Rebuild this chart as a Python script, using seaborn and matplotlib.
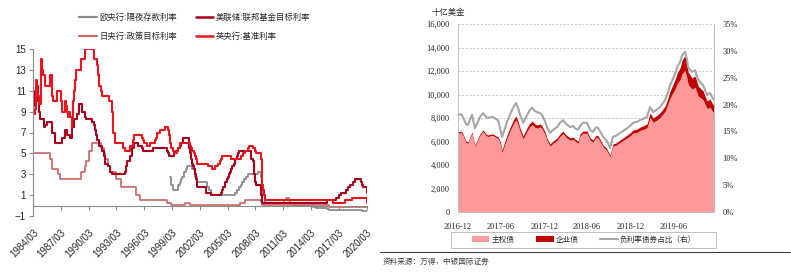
import numpy as np
import pandas as pd
import matplotlib
matplotlib.use('Agg')
import matplotlib.pyplot as plt
from matplotlib.patches import Patch, Rectangle
from matplotlib.lines import Line2D
from matplotlib.ticker import FuncFormatter
import matplotlib.dates as mdates
import seaborn as sns

# ---------------- left chart data (policy rates, %) ----------------
fed_dates = ['1984-03','1984-04','1984-06','1984-08','1984-10','1984-11','1984-12','1985-05','1985-07','1985-09',
             '1986-03','1986-04','1986-07','1986-08','1987-04','1987-09','1987-11','1988-03','1988-06','1988-08',
             '1988-12','1989-02','1989-06','1989-07','1989-10','1989-12','1990-07','1990-10','1990-11','1991-01',
             '1991-02','1991-04','1991-08','1991-09','1991-11','1991-12','1992-04','1992-07','1992-09','1994-02',
             '1994-03','1994-04','1994-05','1994-08','1994-11','1995-02','1995-07','1995-12','1996-01','1997-03',
             '1998-09','1998-10','1998-11','1999-06','1999-08','1999-11','2000-02','2000-03','2000-05','2001-01',
             '2001-03','2001-04','2001-05','2001-06','2001-08','2001-09','2001-10','2001-11','2001-12','2002-11',
             '2003-06','2004-06','2004-08','2004-09','2004-11','2004-12','2005-02','2005-03','2005-05','2005-06',
             '2005-08','2005-09','2005-11','2005-12','2006-01','2006-03','2006-05','2006-06','2007-09','2007-10',
             '2007-12','2008-01','2008-03','2008-04','2008-10','2008-12','2015-12','2016-12','2017-03','2017-06',
             '2017-12','2018-03','2018-06','2018-09','2018-12','2019-08','2019-09','2019-10','2020-03-03','2020-03-20']
fed_vals = [9.5,10.5,11.0,11.5,10.0,9.0,8.25,7.5,7.75,8.0,
            7.5,7.0,6.5,6.0,6.5,7.25,6.75,6.5,7.5,8.25,
            8.75,9.75,9.25,9.0,8.5,8.25,8.0,7.75,7.25,6.75,
            6.25,5.75,5.5,5.25,4.75,4.0,3.75,3.25,3.0,3.25,
            3.5,3.75,4.25,4.75,5.5,6.0,5.75,5.5,5.25,5.5,
            5.25,5.0,4.75,5.0,5.25,5.5,5.75,6.0,6.5,5.5,
            5.0,4.5,4.0,3.75,3.5,3.0,2.5,2.0,1.75,1.25,
            1.0,1.25,1.5,1.75,2.0,2.25,2.5,2.75,3.0,3.25,
            3.5,3.75,4.0,4.25,4.5,4.75,5.0,5.25,4.75,4.5,
            4.25,3.0,2.25,2.0,1.0,0.25,0.5,0.75,1.0,1.25,
            1.5,1.75,2.0,2.25,2.5,2.25,2.0,1.75,1.25,1.25]

boe_dates = ['1984-03','1984-05','1984-07','1984-08','1984-09','1984-11','1985-01','1985-03','1985-04','1985-06',
             '1985-07','1986-01','1986-03','1986-04','1986-05','1986-10','1987-03','1987-04','1987-05','1987-08',
             '1987-10','1987-11','1987-12','1988-02','1988-03','1988-05','1988-06','1988-07','1988-08','1988-09',
             '1988-11','1989-05','1989-10','1990-10','1991-02','1991-03','1991-04','1991-05','1991-07','1991-09',
             '1992-05','1992-09','1992-10','1992-11','1993-01','1993-11','1994-02','1994-09','1994-12','1995-02',
             '1995-12','1996-01','1996-03','1996-06','1996-10','1997-05','1997-06','1997-07','1997-08','1997-11',
             '1998-06','1998-10','1998-11','1998-12','1999-01','1999-02','1999-04','1999-06','1999-09','1999-11',
             '2000-01','2000-02','2001-02','2001-04','2001-05','2001-08','2001-09','2001-10','2001-11','2003-02',
             '2003-07','2003-11','2004-02','2004-05','2004-06','2004-08','2005-08','2006-08','2006-11','2007-01',
             '2007-05','2007-07','2007-12','2008-02','2008-04','2008-10','2008-11','2008-12','2009-01','2009-02',
             '2009-03','2016-08','2017-11','2018-08','2020-03-11','2020-03-20']
boe_vals = [8.75,9.25,12.0,11.0,10.5,9.75,14.0,13.0,12.5,12.25,
            11.5,12.5,11.5,10.5,10.0,11.0,10.0,9.5,9.0,10.0,
            9.5,9.0,8.5,9.0,8.5,7.5,8.5,10.0,11.0,12.0,
            13.0,14.0,15.0,14.0,13.5,12.5,12.0,11.5,11.0,10.5,
            10.0,9.0,8.0,7.0,6.0,5.5,5.25,5.75,6.25,6.75,
            6.5,6.25,6.0,5.75,6.0,6.25,6.5,6.75,7.0,7.25,
            7.5,7.25,6.75,6.25,6.0,5.5,5.25,5.0,5.25,5.5,
            5.75,6.0,5.75,5.5,5.25,5.0,4.75,4.5,4.0,3.75,
            3.5,3.75,4.0,4.25,4.5,4.75,4.5,4.75,5.0,5.25,
            5.5,5.75,5.5,5.25,5.0,4.5,3.0,2.0,1.5,1.0,
            0.5,0.25,0.5,0.75,0.25,0.25]

ecb_dates = ['1999-01','1999-02','1999-04','1999-11','2000-02','2000-03','2000-04','2000-06','2000-09','2000-10',
             '2001-05','2001-09','2001-11','2002-12','2003-03','2003-06','2005-12','2006-03','2006-06','2006-08',
             '2006-10','2006-12','2007-03','2007-06','2008-07','2008-10','2008-11','2008-12','2009-01','2009-03',
             '2009-04','2011-04','2011-07','2011-11','2011-12','2012-07','2014-06','2014-09','2015-12','2016-03',
             '2019-09','2020-03-20']
ecb_vals = [2.75,2.0,1.5,2.0,2.25,2.5,2.75,3.25,3.5,3.75,
            3.5,2.75,2.25,1.75,1.5,1.0,1.25,1.5,1.75,2.0,
            2.25,2.5,2.75,3.0,3.25,2.75,2.25,2.0,1.0,0.5,
            0.25,0.5,0.75,0.5,0.25,0.0,-0.1,-0.2,-0.3,-0.4,
            -0.5,-0.5]

boj_dates = ['1984-03','1986-01','1986-03','1986-04','1986-11','1987-02','1989-05','1989-10','1989-12','1990-03',
             '1990-08','1991-07','1991-11','1991-12','1992-04','1992-07','1993-02','1993-09','1995-04','1995-09',
             '1998-09','1999-02','2000-08','2001-03','2006-07','2007-02','2008-10','2008-12','2016-02','2020-03-20']
boj_vals = [5.0,4.5,4.0,3.5,3.0,2.5,3.25,3.75,4.25,5.25,
            6.0,5.5,5.0,4.5,3.75,3.25,2.5,1.75,1.0,0.5,
            0.25,0.03,0.25,0.02,0.25,0.5,0.3,0.1,-0.1,-0.1]

left_names = ['欧央行:隔夜存款利率', '日央行:政策目标利率', '美联储:联邦基金目标利率', '英央行:基准利率']
left_ticks = [f'{y}-03-01' for y in range(1984, 2021, 3)]

# ---------------- right chart data (negative-yield debt) ----------------
neg_dates = ['2016-12-01','2016-12-14','2016-12-22','2017-01-04','2017-01-12','2017-01-29','2017-02-11','2017-02-24',
             '2017-03-04','2017-03-17','2017-03-30','2017-04-07','2017-04-20','2017-04-28','2017-05-11','2017-05-20',
             '2017-05-28','2017-06-06','2017-06-18','2017-06-27','2017-07-09','2017-07-18','2017-07-26','2017-08-04',
             '2017-08-12','2017-08-21','2017-09-03','2017-09-11','2017-09-24','2017-10-02','2017-10-11','2017-10-23',
             '2017-11-01','2017-11-14','2017-11-22','2017-12-05','2017-12-13','2017-12-26','2018-01-08','2018-01-25',
             '2018-02-06','2018-02-19','2018-03-04','2018-03-21','2018-04-03','2018-04-11','2018-04-24','2018-05-02',
             '2018-05-15','2018-06-01','2018-06-14','2018-06-26','2018-07-09','2018-07-18','2018-07-30','2018-08-08',
             '2018-08-21','2018-08-29','2018-09-06','2018-09-19','2018-10-02','2018-10-19','2018-11-01','2018-11-18',
             '2018-11-30','2018-12-13','2018-12-30','2019-01-12','2019-01-24','2019-02-10','2019-02-23','2019-03-08',
             '2019-03-21','2019-04-06','2019-04-19','2019-04-28','2019-05-10','2019-05-19','2019-06-01','2019-06-10',
             '2019-06-18','2019-06-30','2019-07-09','2019-07-21','2019-07-30','2019-08-03','2019-08-12','2019-08-20',
             '2019-09-02','2019-09-15','2019-09-23','2019-10-06','2019-10-14','2019-10-23','2019-11-04','2019-11-13',
             '2019-11-21']
total_bn = [6810,6890,6640,6040,5960,6810,5700,6300,6640,6980,
            6640,6550,6640,6640,6470,6380,6040,5280,6040,6550,
            7150,7570,7910,8170,7740,7150,6470,6810,7320,7570,
            7740,7490,7400,7490,7320,6810,6300,5790,6040,6300,
            6640,6890,6550,6300,6380,6210,6040,6640,6890,6890,
            6300,6130,6550,6470,6040,5700,5450,5190,4850,5790,
            5870,6130,6300,6550,6720,6980,7060,7230,7320,7490,
            8430,8000,8170,8430,8770,9020,9700,10300,10890,11320,
            11830,12250,12940,13300,12510,11910,11660,11400,11570,10720,
            10550,10300,9870,9450,9620,9280,9020]
corp_bn = [120,130,130,120,120,130,120,130,130,140,130,130,130,130,130,130,
           200,220,240,260,280,300,320,330,300,280,250,260,280,300,300,280,260,250,
           230,220,200,180,190,200,210,200,190,190,180,180,180,
           180,190,190,180,170,180,180,170,170,160,160,150,
           180,190,200,220,230,250,260,270,280,300,320,
           380,360,380,400,420,450,500,
           600,700,800,900,1000,
           1150,1250,1150,1050,1000,950,
           950,850,800,750,700,650,700,650,600]
share_pct = [18.1,18.2,17.7,16.4,16.2,18.1,15.6,16.9,17.7,18.4,
             17.7,17.5,17.7,17.7,17.3,17.1,15.6,14.0,15.6,16.8,
             18.1,19.0,19.7,20.3,19.4,18.1,16.6,17.3,18.4,19.0,
             19.4,18.8,18.6,18.4,18.1,16.9,15.8,14.7,15.3,15.8,
             16.6,17.1,16.4,15.8,16.0,15.6,15.3,16.0,16.6,16.6,
             15.3,14.9,15.8,15.6,14.7,14.0,13.4,12.8,11.9,14.0,
             14.2,14.7,15.1,15.6,16.0,16.6,16.8,17.1,17.3,17.7,
             19.5,18.6,19.0,19.5,20.3,20.9,22.3,23.6,24.9,25.9,
             27.0,27.9,29.2,29.8,28.3,27.0,26.4,26.1,26.4,24.6,
             24.2,23.6,22.7,21.8,22.2,21.4,20.9]
right_names = ['主权债', '企业债', '负利率债券占比（右）']
right_ticks = ['2016-12-01','2017-06-01','2017-12-01','2018-06-01','2018-12-01','2019-06-01']

# ---------------- styling ----------------
sns.set_theme(style='white')
plt.rcParams['font.family'] = ['Noto Sans CJK SC', 'DejaVu Sans']
W, H = 791, 273
fig = plt.figure(figsize=(W / 100, H / 100), dpi=100)
fig.patch.set_facecolor('white')

def fx(px):
    return px / W

def fy(py):
    return 1 - py / H

def todate(lst):
    return pd.to_datetime(lst, format='ISO8601')

# ---------------- left chart ----------------
ax1 = fig.add_axes([fx(33), fy(216), fx(367) - fx(33), fy(49) - fy(216)])
series = [
    ('欧央行:隔夜存款利率', ecb_dates, ecb_vals, '#8c8c8c', 1.3),
    ('日央行:政策目标利率', boj_dates, boj_vals, '#c86464', 1.2),
    ('美联储:联邦基金目标利率', fed_dates, fed_vals, '#a8001c', 1.5),
    ('英央行:基准利率', boe_dates, boe_vals, '#e8141e', 1.5),
]
handles = []
for name, d, v, c, lw in series:
    df = pd.DataFrame({'date': todate(d), 'rate': v})
    sns.lineplot(data=df, x='date', y='rate', ax=ax1, color=c, lw=lw,
                 drawstyle='steps-post', estimator=None)
    handles.append(Line2D([], [], color=c, lw=lw + 0.3))

ax1.set_xlim(pd.Timestamp('1984-03-01'), pd.Timestamp('2020-03-20'))
ax1.set_ylim(-1, 15)
ax1.set_yticks(range(-1, 16, 2))
ax1.set_xticks(todate(left_ticks))
ax1.xaxis.set_major_formatter(mdates.DateFormatter('%Y/%m'))
ax1.set_xlabel('')
ax1.set_ylabel('')
for s in ['top', 'right']:
    ax1.spines[s].set_visible(False)
ax1.spines['bottom'].set_position(('data', 0))
for s in ['bottom', 'left']:
    ax1.spines[s].set_color('#8c8c8c')
    ax1.spines[s].set_linewidth(0.8)
ax1.tick_params(axis='both', bottom=True, left=True, length=3, width=0.8, color='#8c8c8c',
                labelsize=7, labelcolor='#262626', labelfontfamily='Liberation Sans')
ax1.tick_params(axis='x', pad=13, labelrotation=45)
for lbl in ax1.get_xticklabels():
    lbl.set_ha('right')
    lbl.set_va('top')
    lbl.set_rotation_mode('anchor')
ax1.tick_params(axis='y', pad=2)

fig.legend(handles, left_names, ncol=2, loc='upper left',
           bbox_to_anchor=(fx(79), fy(13)), bbox_transform=fig.transFigure,
           frameon=False, fontsize=6, handlelength=2.1, handletextpad=0.35,
           columnspacing=2.2, labelspacing=1.25, borderpad=0, borderaxespad=0,
           labelcolor='#262626')

# ---------------- right chart ----------------
ax2 = fig.add_axes([fx(458), fy(212), fx(714) - fx(458), fy(24) - fy(212)])
nd = todate(neg_dates)
total = np.array(total_bn, dtype=float)
corp = np.array(corp_bn, dtype=float)
sov = total - corp
ax2.fill_between(nd, 0, sov, color='#ff9999', lw=0, zorder=2)
ax2.fill_between(nd, sov, total, color='#c00000', lw=0, zorder=2)
ax2.set_ylim(0, 16000)
ax2.set_yticks(range(0, 16001, 2000))
ax2.yaxis.set_major_formatter(FuncFormatter(lambda v, p: f'{v:,.0f}'))
ax2.set_xlim(nd[0], nd[-1])
ax2.set_xticks(todate(right_ticks))
ax2.xaxis.set_major_formatter(mdates.DateFormatter('%Y-%m'))
ax2.set_axisbelow(True)
ax2.grid(axis='y', color='#bfbfbf', lw=0.6, ls=(0, (2.5, 2)))
ax2.grid(axis='x', visible=False)
ax2.spines['top'].set_visible(False)
for s in ['left', 'right', 'bottom']:
    ax2.spines[s].set_color('#bfbfbf')
    ax2.spines[s].set_linewidth(0.7)
ax2.tick_params(axis='both', length=0, labelsize=6, labelcolor='#262626',
                labelfontfamily='Liberation Serif')
ax2.tick_params(axis='x', pad=8)
ax2.tick_params(axis='y', pad=6)

ax3 = ax2.twinx()
sdf = pd.DataFrame({'date': nd, 'share': share_pct})
sns.lineplot(data=sdf, x='date', y='share', ax=ax3, color='#a6a6a6', lw=1.5, estimator=None)
ax3.set_ylim(0, 35)
ax3.set_yticks(range(0, 36, 5))
ax3.yaxis.set_major_formatter(FuncFormatter(lambda v, p: f'{v:.0f}%'))
ax3.set_xlim(nd[0], nd[-1])
ax3.set_xlabel('')
ax3.set_ylabel('')
ax2.set_xlabel('')
ax2.set_ylabel('')
for s in ['top', 'left', 'bottom']:
    ax3.spines[s].set_visible(False)
ax3.spines['right'].set_color('#bfbfbf')
ax3.spines['right'].set_linewidth(0.7)
ax3.grid(False)
ax3.tick_params(axis='y', length=0, labelsize=6, labelcolor='#262626',
                labelfontfamily='Liberation Serif', pad=6)

fig.text(fx(432), fy(13), '十亿美金', fontsize=6, va='center', ha='left', color='#262626')

# legend box of the right chart
fig.add_artist(Rectangle((fx(451), fy(248)), fx(716) - fx(451), fy(232) - fy(248),
                         transform=fig.transFigure, facecolor='white', edgecolor='#bfbfbf',
                         lw=0.7, zorder=5))
rh = [Patch(facecolor='#ff9999', edgecolor='none'),
      Patch(facecolor='#c00000', edgecolor='none'),
      Line2D([], [], color='#a6a6a6', lw=1.5)]
leg = fig.legend(rh, right_names, ncol=3, loc='center',
                 bbox_to_anchor=(fx(584), fy(240)), bbox_transform=fig.transFigure,
                 frameon=False, fontsize=5.5, handlelength=2.3, handleheight=0.8,
                 handletextpad=0.3, columnspacing=2.8, borderpad=0, borderaxespad=0,
                 labelcolor='#262626')
leg.set_zorder(6)

fig.add_artist(Line2D([fx(380), fx(790)], [fy(252), fy(252)], color='#404040', lw=0.8))
fig.text(fx(383), fy(262), '资料来源：万得，中银国际证券', fontsize=5.5, va='center', ha='left',
         color='#404040')

fig.savefig('out.png', dpi=100, facecolor='white')
